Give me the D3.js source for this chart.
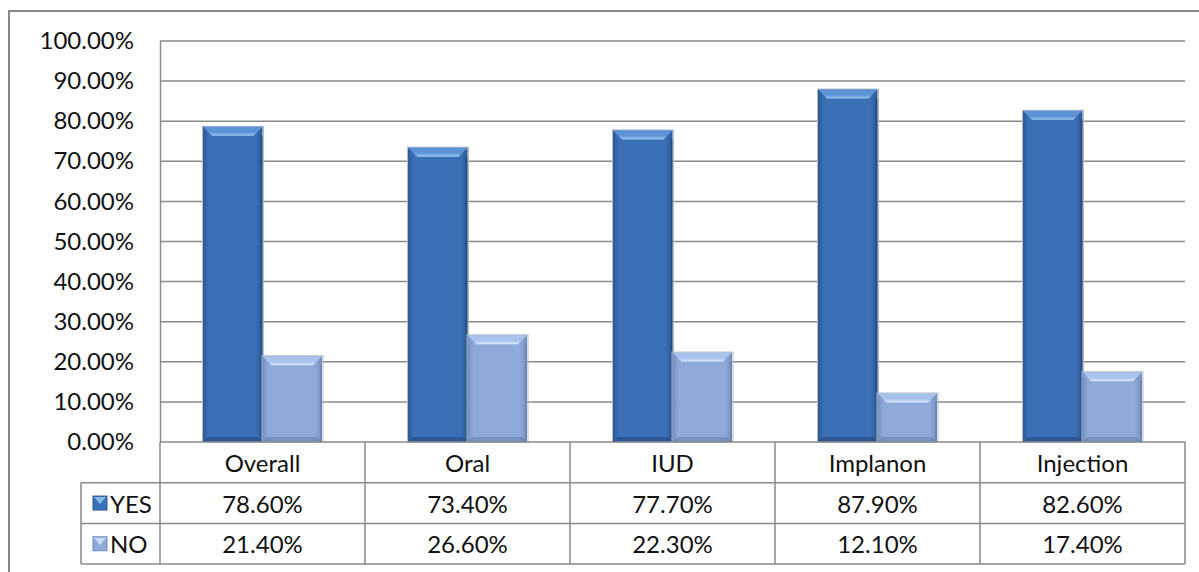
<!DOCTYPE html>
<html>
<head>
<meta charset="utf-8">
<script src="https://cdn.jsdelivr.net/npm/d3@7"></script>
<style>
  html, body { margin: 0; padding: 0; background: #fff; }
  svg { display: block; }
  text { font-family: Lato, "Liberation Sans", sans-serif; fill: #111; }
</style>
</head>
<body>
<svg id="chart" width="1199" height="572"></svg>
<script>
// Contraceptive method data
const categories = ["Overall", "Oral", "IUD", "Implanon", "Injection"];
const series = ["YES", "NO"];
const yesValues = [0.786, 0.734, 0.777, 0.879, 0.826];
const noValues = [0.214, 0.266, 0.223, 0.121, 0.174];
const yTicks = [0, 0.1, 0.2, 0.3, 0.4, 0.5, 0.6, 0.7, 0.8, 0.9, 1.0];

const valuesBySeries = { YES: yesValues, NO: noValues };

const W = 1199, H = 572;
const plot = { left: 160, right: 1185, top: 41, bottom: 442 };
const rowH = 40.7;
const legendLeft = 81;
const fontSize = 24;

const svg = d3.select("#chart");

// palettes: base, dark edge, bevel top, highlight, bottom shade
const pal = {
  YES: { mid: "#3b70b7", edge: "#2c5895", top: "#5d93d6", hi: "#9ccaf6", bot: "#22467a" },
  NO:  { mid: "#8faad9", edge: "#7490c0", top: "#a8c2ec", hi: "#dcebff", bot: "#667ea9" }
};

const defs = svg.append("defs");
series.forEach(s => {
  const p = pal[s];
  const g = defs.append("linearGradient").attr("id", "body-" + s).attr("x1", 0).attr("x2", 1).attr("y1", 0).attr("y2", 0);
  g.append("stop").attr("offset", "0%").attr("stop-color", p.edge);
  g.append("stop").attr("offset", "10%").attr("stop-color", p.mid);
  g.append("stop").attr("offset", "88%").attr("stop-color", p.mid);
  g.append("stop").attr("offset", "100%").attr("stop-color", p.edge);
  const t = defs.append("linearGradient").attr("id", "top-" + s).attr("x1", 0).attr("x2", 0).attr("y1", 0).attr("y2", 1);
  t.append("stop").attr("offset", "0%").attr("stop-color", p.top);
  t.append("stop").attr("offset", "60%").attr("stop-color", p.top);
  t.append("stop").attr("offset", "100%").attr("stop-color", p.hi);
});

// outer frame
svg.append("rect")
  .attr("x", 9).attr("y", 11).attr("width", W + 10).attr("height", H + 10)
  .attr("fill", "none").attr("stroke", "#878787").attr("stroke-width", 2);

const y = d3.scaleLinear().domain([0, 1]).range([plot.bottom, plot.top]);
const x0 = d3.scaleBand().domain(categories).range([plot.left, plot.right]).paddingInner(0).paddingOuter(0);
const groupW = 119;
const x1 = d3.scaleBand().domain(series).range([0, groupW]).padding(0);

// gridlines
svg.append("g")
  .selectAll("line").data(yTicks.slice(1)).join("line")
  .attr("x1", plot.left).attr("x2", plot.right)
  .attr("y1", d => y(d)).attr("y2", d => y(d))
  .attr("stroke", "#8a8a8a").attr("stroke-width", 1.5);

// y axis
const yAxis = d3.axisLeft(y).tickValues(yTicks).tickFormat(d => (d * 100).toFixed(2) + "%").tickSize(0).tickPadding(26);
const ya = svg.append("g").attr("transform", `translate(${plot.left},0)`).call(yAxis);
ya.select(".domain").attr("stroke", "#8a8a8a").attr("stroke-width", 1.5);
ya.selectAll("text").attr("font-size", fontSize).style("font-family", "Lato, sans-serif").attr("fill", "#111");

// bars with bevel
const bars = [];
categories.forEach((c, i) => {
  series.forEach(s => {
    bars.push({ c, s, v: valuesBySeries[s][i] });
  });
});

const pts = arr => arr.map(d => d.join(",")).join(" ");
const bg = svg.append("g");
bars.forEach(b => {
  const bx = x0(b.c) + (x0.bandwidth() - groupW) / 2 + x1(b.s);
  const bw = x1.bandwidth();
  const by = y(b.v);
  const bh = y(0) - by;
  const p = pal[b.s];
  const g = bg.append("g");
  // soft shadow outline
  g.append("rect").attr("x", bx - 0.5).attr("y", by - 0.5).attr("width", bw + 1.5).attr("height", bh + 0.5)
    .attr("fill", "none").attr("stroke", "#b5bcc8").attr("stroke-width", 1);
  g.append("rect").attr("x", bx).attr("y", by).attr("width", bw).attr("height", bh)
    .attr("fill", `url(#body-${b.s})`);
  const bv = Math.min(9, bh / 2);
  // top bevel
  g.append("polygon")
    .attr("points", pts([[bx, by], [bx + bw, by], [bx + bw - bv, by + bv], [bx + bv, by + bv]]))
    .attr("fill", `url(#top-${b.s})`);
  // bottom bevel
  const bb = Math.min(5, bh / 3);
  g.append("polygon")
    .attr("points", pts([[bx, by + bh], [bx + bw, by + bh], [bx + bw - bb, by + bh - bb], [bx + bb, by + bh - bb]]))
    .attr("fill", p.bot).attr("opacity", 0.55);
  // right edge shade
  g.append("rect").attr("x", bx + bw - 2).attr("y", by + bv).attr("width", 2).attr("height", bh - bv)
    .attr("fill", p.bot).attr("opacity", 0.6);
});

// data table
const tg = svg.append("g");
const lineColor = "#8a8a8a";
const rowTop = plot.bottom;
const rows = [rowTop, rowTop + rowH, rowTop + 2 * rowH, rowTop + 3 * rowH];

const hline = (xa, xb, yy) => tg.append("line").attr("x1", xa).attr("x2", xb).attr("y1", yy).attr("y2", yy)
  .attr("stroke", lineColor).attr("stroke-width", 1.5);
const vline = (xx, ya_, yb) => tg.append("line").attr("x1", xx).attr("x2", xx).attr("y1", ya_).attr("y2", yb)
  .attr("stroke", lineColor).attr("stroke-width", 1.5);

hline(plot.left, plot.right, rows[0]);
hline(legendLeft, plot.right, rows[1]);
hline(legendLeft, plot.right, rows[2]);
hline(legendLeft, plot.right, rows[3]);
vline(legendLeft, rows[1], rows[3]);
categories.forEach(c => vline(x0(c), rows[0], rows[3]));
vline(plot.right, rows[0], rows[3]);

// category headers
tg.selectAll("text.cat").data(categories).join("text")
  .attr("class", "cat")
  .attr("x", d => x0(d) + x0.bandwidth() / 2)
  .attr("y", (rows[0] + rows[1]) / 2)
  .attr("text-anchor", "middle").attr("dominant-baseline", "central")
  .attr("font-size", fontSize)
  .text(d => d);

// value rows with legend keys
series.forEach((s, si) => {
  const cy = (rows[si + 1] + rows[si + 2]) / 2;
  const p = pal[s];
  const kx = 93, ks = 14;
  tg.append("rect").attr("x", kx).attr("y", cy - ks / 2).attr("width", ks).attr("height", ks)
    .attr("fill", p.mid).attr("stroke", p.edge).attr("stroke-width", 1);
  tg.append("polygon")
    .attr("points", pts([[kx + 1, cy - ks / 2 + 1], [kx + ks - 1, cy - ks / 2 + 1], [kx + ks / 2, cy + 1]]))
    .attr("fill", p.hi).attr("opacity", 0.8);
  tg.append("text").attr("x", 110).attr("y", cy).attr("dominant-baseline", "central")
    .attr("font-size", fontSize).text(s);
  tg.selectAll("text.v" + s).data(valuesBySeries[s]).join("text")
    .attr("class", "v" + s)
    .attr("x", (d, i) => x0(categories[i]) + x0.bandwidth() / 2)
    .attr("y", cy)
    .attr("text-anchor", "middle").attr("dominant-baseline", "central")
    .attr("font-size", fontSize)
    .text(d => (d * 100).toFixed(2) + "%");
});
</script>
</body>
</html>
